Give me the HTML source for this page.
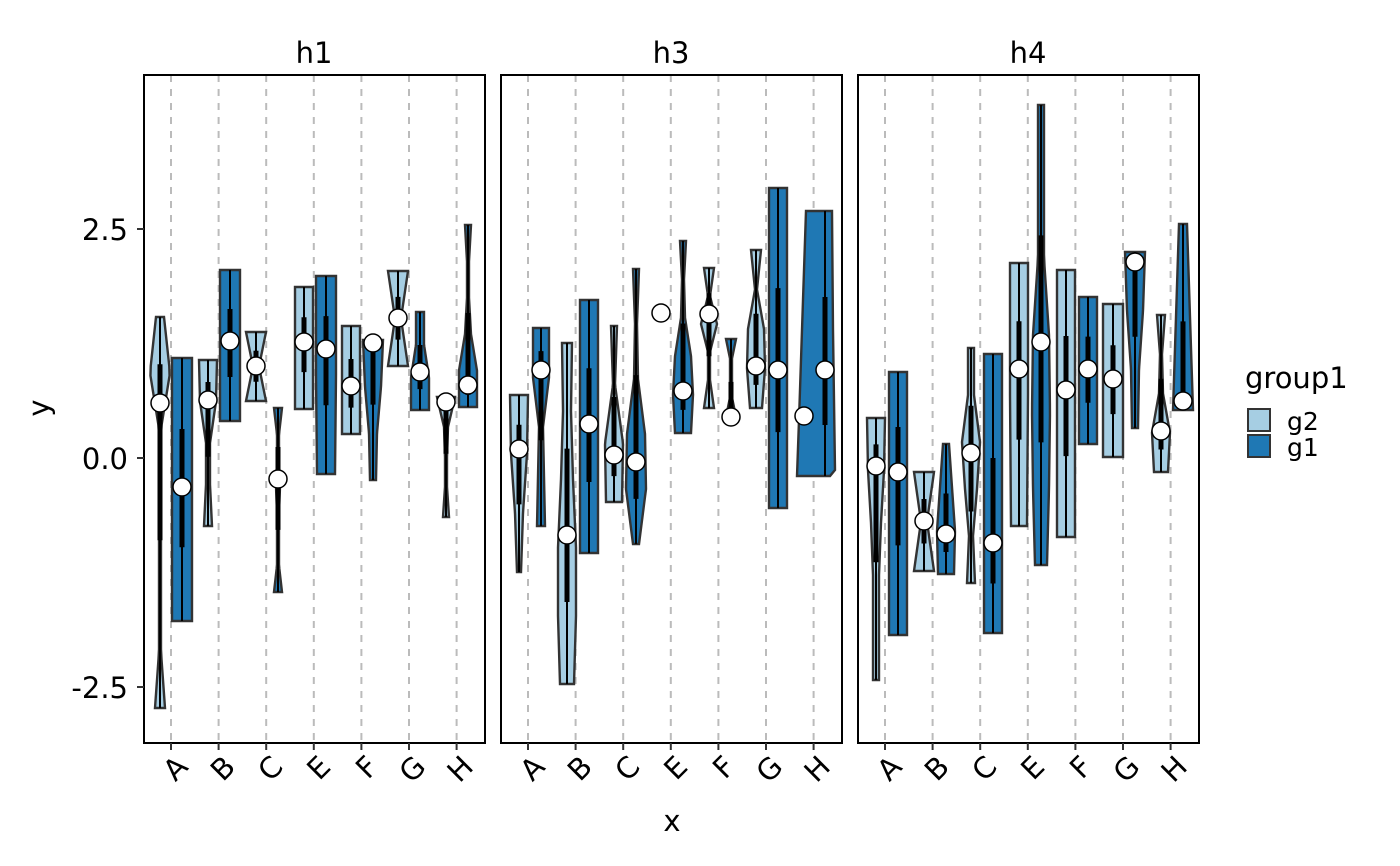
<!DOCTYPE html>
<html><head><meta charset="utf-8"><style>body{margin:0;background:#fff}svg{display:block}text{font-family:"DejaVu Sans","Liberation Sans",sans-serif}</style></head>
<body><svg id="s" width="1400" height="866" xmlns="http://www.w3.org/2000/svg"></svg>
<script>
const s=document.getElementById('s');let h='';
const C2='#a6cee3',C1='#1f78b4';
const P=[144,501,858];
P.forEach((x0,i)=>{
  for(let k=0;k<7;k++){const cx=x0+27+k*47.6;h+=`<line x1="${cx}" y1="75" x2="${cx}" y2="743" stroke="#bbb" stroke-width="2" stroke-dasharray="7,7"/>`;}
});
const V=[
[160,317,708,[4,10,1,1,1,1,1,5],403,C2],[182,358,621,[10,10],487,C1],
[208,360,526,[9,8,2,2,4],400,C2],[230,270,421,[10,10],341,C1],
[256,332,401,[10,3,10],366,C2],[278,408,592,[4,1,1,2,1,1,1,4],479,C1],
[304,287,409,[9,9],342,C2],[326,276,474,[10,10,9],349,C1],
[351,326,434,[9,9],386,C2],[373,340,480,[10,8,4,3],343,C1],
[398,271,366,[10,3,10],318,C2],[420,312,410,[4,4,9,9],372,C1],
[446,397,517,[9,2,1,1,3],402,C2],[468,225,407,[3,1,1,3,9,9],385,C1],
[519,395,572,[9,8,4,2],449,C2],[541,328,526,[8,8,2,3,4],370,C1],
[567,343,684,[5,4,6,9,9,7],535,C2],[589,300,553,[9,9],424,C1],
[614,326,502,[3,1,9,8],455,C2],[636,269,544,[3,1,2,9,10,3],462,C1],
[683,241,433,[3,1,2,8,10,8],391,C1],
[709,268,408,[5,1,8,1,1,5],314,C2],[731,339,417,[5,1,1,1,5],417,C1],
[756,250,408,[5,1,8,9,6],366,C2],[778,188,508,[9,9],370,C1],
[876,418,680,[9,8,5,3,3,3],466,C2],[898,372,635,[9,9],472,C1],
[924,472,571,[10,3,10],521,C2],[946,444,574,[3,6,9,8],534,C1],
[971,348,583,[3,3,9,6,2,4],453,C2],[993,354,633,[9,9],543,C1],
[1019,263,526,[9,9,8],369,C2],[1041,105,565,[3,3,3,8,9,8,6],342,C1],
[1066,270,537,[9,9],390,C2],[1088,297,444,[9,9],369,C1],
[1113,304,457,[10,10],379,C2],[1135,252,428,[10,8,4,3],262,C1],
[1161,315,472,[4,1,2,9,7],431,C2],[1183,224,410,[4,6,8,10],401,C1]
];
function wAt(w,f){if(w.length==1)return w[0];const p=f*(w.length-1),i=Math.min(Math.floor(p),w.length-2),t=p-i;return w[i]*(1-t)+w[i+1]*t;}
V.forEach(([cx,t,b,w,m,c])=>{
  let L=[],R=[];const n=40;
  for(let k=0;k<=n;k++){const f=k/n,y=t+(b-t)*f,ww=wAt(w,f);R.push(`${cx+ww},${y}`);L.unshift(`${cx-ww},${y}`);}
  h+=`<polygon points="${R.concat(L).join(' ')}" fill="${c}" stroke="#333" stroke-width="2.4"/>`;
  const q1=Math.max(t,m-(m-t)*0.45),q3=Math.min(b,m+(b-m)*0.45);
  h+=`<line x1="${cx}" y1="${t}" x2="${cx}" y2="${b}" stroke="#000" stroke-width="2"/>`;
  h+=`<line x1="${cx}" y1="${q1}" x2="${cx}" y2="${q3}" stroke="#000" stroke-width="5"/>`;
  h+=`<circle cx="${cx}" cy="${m}" r="9" fill="#fff" stroke="#000" stroke-width="1.5"/>`;
});
h+=`<polygon points="806,211 832,211 833,330 835,470 830,476 797,476 799,420 803,300" fill="${C1}" stroke="#333" stroke-width="2.4"/>`;
h+=`<line x1="825" y1="211" x2="825" y2="476" stroke="#000" stroke-width="2"/><line x1="825" y1="297" x2="825" y2="425" stroke="#000" stroke-width="5"/>`;
h+=`<circle cx="825" cy="370" r="9" fill="#fff" stroke="#000" stroke-width="1.5"/><circle cx="804" cy="416" r="9" fill="#fff" stroke="#000" stroke-width="1.5"/>`;
h+=`<circle cx="661" cy="313" r="9" fill="#fff" stroke="#000" stroke-width="1.5"/>`;
const lab=['A','B','C','E','F','G','H'];
P.forEach((x0,i)=>{
  h+=`<rect x="${x0}" y="75" width="341" height="668" fill="none" stroke="#000" stroke-width="2"/>`;
  h+=`<text x="${x0+170}" y="63" font-size="29" text-anchor="middle">${['h1','h3','h4'][i]}</text>`;
  lab.forEach((l,k)=>{const cx=x0+27+k*47.6;h+=`<line x1="${cx}" y1="743" x2="${cx}" y2="750" stroke="#333" stroke-width="2"/><text transform="translate(${cx+4},${754}) rotate(-45)" font-size="29" text-anchor="end" dy="0.7em" x="0">${l}</text>`;});
});
[[229,'2.5'],[458,'0.0'],[687,'-2.5']].forEach(([y,t])=>{h+=`<line x1="137" y1="${y}" x2="144" y2="${y}" stroke="#333" stroke-width="2"/><text x="128" y="${y+11}" font-size="29" text-anchor="end">${t}</text>`;});
h+=`<text x="672" y="831" font-size="29" text-anchor="middle">x</text>`;
h+=`<text transform="translate(49,408) rotate(-90)" font-size="29" text-anchor="middle">y</text>`;
h+=`<text x="1245" y="388" font-size="29">group1</text>`;
h+=`<rect x="1248" y="409" width="22" height="22" fill="${C2}" stroke="#333" stroke-width="2"/><rect x="1248" y="435" width="22" height="22" fill="${C1}" stroke="#333" stroke-width="2"/>`;
h+=`<text x="1287" y="430" font-size="25">g2</text><text x="1287" y="456" font-size="25">g1</text>`;
s.innerHTML=h;
</script></body></html>
